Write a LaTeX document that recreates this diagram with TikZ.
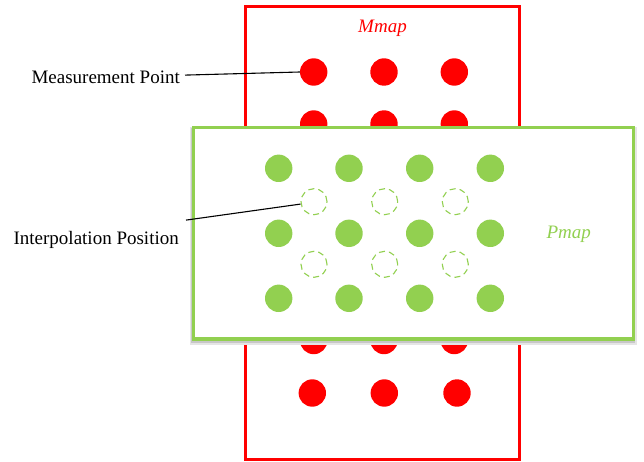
\documentclass[tikz,border=0pt]{standalone}
\usepackage{fontspec}
\setmainfont{Liberation Serif}
\definecolor{mred}{RGB}{255,0,0}
\definecolor{pgreen}{RGB}{146,208,80}
\tikzset{
  mdot/.style={circle,fill=mred,minimum size=27.4pt,inner sep=0pt},
  pdot/.style={circle,fill=pgreen,minimum size=27.4pt,inner sep=0pt},
  ipos/.style={circle,draw=pgreen,line width=1.1pt,dash pattern=on 6pt off 4pt,minimum size=26pt,inner sep=0pt},
  callout/.style={font=\fontsize{19}{23}\selectfont,text=black,inner sep=0pt},
  mapname/.style={font=\fontsize{19}{23}\selectfont\itshape,inner sep=0pt},
  leader/.style={draw=black,line width=1.1pt},
  mframe/.style={draw=mred,line width=3pt},
  pframe/.style={draw=pgreen,line width=3.4pt,fill=white},
  pshadowsoft/.style={draw=black!10,line width=6.5pt},
  pshadow/.style={draw=black!22,line width=4pt}
}
\begin{document}
\begin{tikzpicture}[x=1pt,y=-1pt]
\useasboundingbox (0,0) rectangle (644,462);

% Mmap frame and its measurement points
\draw[mframe] (245,6.7) rectangle (519.3,459.3);
\node[mapname,text=mred,anchor=base] (mmap) at (382.5,32.5) {Mmap};
\foreach \r/\y in {1/72,2/124,3/340.5} {
  \foreach \c/\x in {1/313.7,2/384,3/454.3} {
    \node[mdot] (m\r\c) at (\x,\y) {};
  }
}
\foreach \c/\x in {1/312.3,2/384.3,3/457} {
  \node[mdot] (m4\c) at (\x,393) {};
}

% Pmap frame on top, with a soft shadow falling downwards
\draw[pshadowsoft] (193.3,130.5) rectangle (633.3,341.5);
\draw[pshadow] (193.3,130.3) rectangle (633.3,341.2);
\draw[pframe] (193.3,127.7) rectangle (633.3,339);
\node[mapname,text=pgreen,anchor=base] (pmap) at (568.7,238.3) {Pmap};

% grid points of Pmap
\foreach \r/\y in {1/168.3,2/233.3,3/298.3} {
  \foreach \c/\x in {1/278.7,2/349,3/419.7,4/490.3} {
    \node[pdot] (p\r\c) at (\x,\y) {};
  }
}
% interpolation positions
\foreach \r/\y in {1/201.7,2/264.3} {
  \foreach \c/\x in {1/314,2/384.7,3/455.3} {
    \node[ipos] (i\r\c) at (\x,\y) {};
  }
}

% callouts
\node[callout,anchor=base east] (mlabel) at (180,83.3) {Measurement Point};
\node[callout,anchor=base east] (ilabel) at (179,244) {Interpolation Position};
\draw[leader] ([shift={(5,-2)}]mlabel.east) -- (m11.west);
\draw[leader] ([shift={(7,-10.5)}]ilabel.north east) -- (i11.190);
\end{tikzpicture}
\end{document}
